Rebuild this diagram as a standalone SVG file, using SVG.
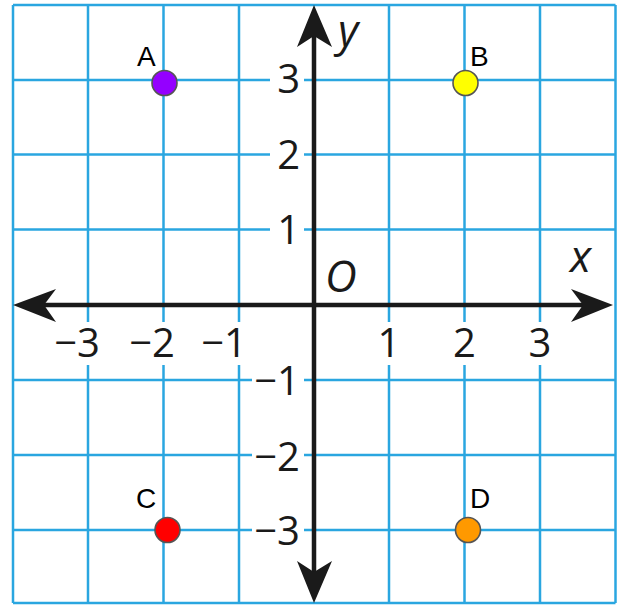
<svg xmlns="http://www.w3.org/2000/svg" width="621" height="605" viewBox="0 0 621 605">
<style>
.grid line{stroke:#2aa6e0;stroke-width:2.5}
.axis{stroke:#1a1a1a;stroke-width:4.5;fill:none}
.head{fill:#1a1a1a}
.num{font-family:"Open Sans","Noto Sans",sans-serif;font-size:40px;fill:#1a1a1a}
.var{font-family:"Open Sans","Noto Sans",sans-serif;font-size:44px;font-style:italic;fill:#1a1a1a}
.lab{font-family:"Liberation Sans",Arial,sans-serif;font-size:28px;fill:#000}
.gap{fill:#fff}
.pt{stroke:#555;stroke-width:1.6}
</style>
<rect width="621" height="605" fill="#fff"/>
<g class="grid" id="grid">
<line x1="13" y1="5" x2="13" y2="603"/>
<line x1="88" y1="5" x2="88" y2="603"/>
<line x1="163.5" y1="5" x2="163.5" y2="603"/>
<line x1="239" y1="5" x2="239" y2="603"/>
<line x1="389" y1="5" x2="389" y2="603"/>
<line x1="464.5" y1="5" x2="464.5" y2="603"/>
<line x1="540" y1="5" x2="540" y2="603"/>
<line x1="615.5" y1="5" x2="615.5" y2="603"/>
<line x1="13" y1="5" x2="615.5" y2="5"/>
<line x1="13" y1="80" x2="615.5" y2="80"/>
<line x1="13" y1="154.5" x2="615.5" y2="154.5"/>
<line x1="13" y1="229.5" x2="615.5" y2="229.5"/>
<line x1="13" y1="380" x2="615.5" y2="380"/>
<line x1="13" y1="455" x2="615.5" y2="455"/>
<line x1="13" y1="530" x2="615.5" y2="530"/>
<line x1="13" y1="603" x2="615.5" y2="603"/>
</g>
<g id="label-gaps">
<rect class="gap" x="270" y="70" width="34" height="20"/>
<rect class="gap" x="270" y="145" width="34" height="20"/>
<rect class="gap" x="270" y="220" width="34" height="20"/>
<rect class="gap" x="252" y="370" width="52" height="20"/>
<rect class="gap" x="252" y="445" width="52" height="20"/>
<rect class="gap" x="252" y="520" width="52" height="20"/>
<rect class="gap" x="76" y="322" width="24" height="43"/>
<rect class="gap" x="151" y="322" width="24" height="43"/>
<rect class="gap" x="227" y="322" width="24" height="43"/>
<rect class="gap" x="377" y="322" width="24" height="43"/>
<rect class="gap" x="452" y="322" width="24" height="43"/>
<rect class="gap" x="528" y="322" width="24" height="43"/>
</g>
<g id="axes">
<line class="axis" x1="22" y1="305" x2="604" y2="305"/>
<line class="axis" x1="314" y1="14" x2="314" y2="594"/>
<path class="head" d="M613,305 L571,289 L583,305 L571,322 Z"/>
<path class="head" d="M13,305 L56,289 L44,305 L56,322 Z"/>
<path class="head" d="M314,5 L297,47 L314,36 L332,47 Z"/>
<path class="head" d="M314,603 L297,561 L314,572 L332,561 Z"/>
</g>
<g id="tick-labels">
<text class="num" x="300" y="93" text-anchor="end">3</text>
<text class="num" x="300" y="169" text-anchor="end">2</text>
<text class="num" x="300" y="244" text-anchor="end">1</text>
<text class="num" x="300" y="395" text-anchor="end">−1</text>
<text class="num" x="300" y="471" text-anchor="end">−2</text>
<text class="num" x="300" y="545" text-anchor="end">−3</text>
<text class="num" x="100" y="357" text-anchor="end">−3</text>
<text class="num" x="175" y="357" text-anchor="end">−2</text>
<text class="num" x="247" y="357" text-anchor="end">−1</text>
<text class="num" x="389" y="357" text-anchor="middle">1</text>
<text class="num" x="464.5" y="357" text-anchor="middle">2</text>
<text class="num" x="540" y="357" text-anchor="middle">3</text>
<text class="var" x="325" y="292">O</text>
<text class="var" x="338" y="46">y</text>
<text class="var" x="570" y="272">x</text>
</g>
<g id="A">
<circle class="pt" cx="164.5" cy="83" r="12.5" fill="#9400ff"/>
<text class="lab" x="137" y="66">A</text>
</g>
<g id="B">
<circle class="pt" cx="465.5" cy="83" r="12.5" fill="#ffff00"/>
<text class="lab" x="470" y="66">B</text>
</g>
<g id="C">
<circle class="pt" cx="167.5" cy="530" r="12.5" fill="#ff0000"/>
<text class="lab" x="136" y="508">C</text>
</g>
<g id="D">
<circle class="pt" cx="468" cy="530" r="12.5" fill="#ff9900"/>
<text class="lab" x="470" y="508">D</text>
</g>
</svg>
